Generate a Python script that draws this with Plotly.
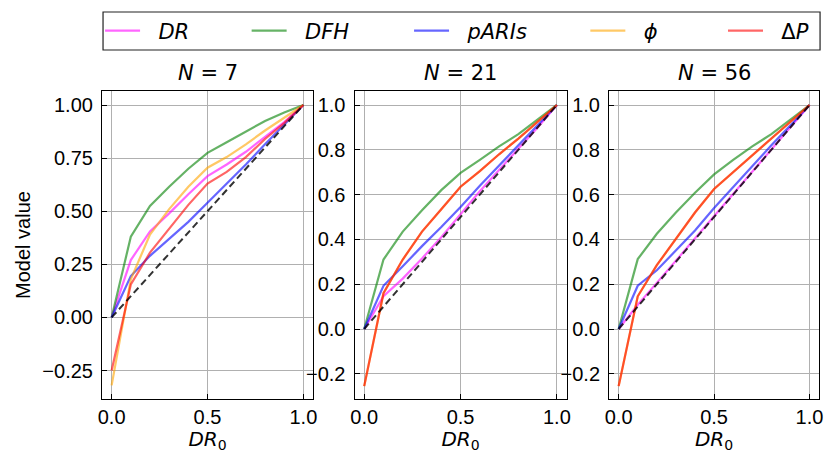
import plotly.graph_objects as go

# ---------------- data ----------------
x_vals = [0.0, 0.1, 0.2, 0.3, 0.4, 0.5, 0.6, 0.7, 0.8, 0.9, 1.0]

dr_7 = [0, 0.27, 0.405, 0.49, 0.58, 0.665, 0.72, 0.78, 0.85, 0.92, 1]
dfh_7 = [0, 0.38, 0.525, 0.615, 0.70, 0.775, 0.825, 0.875, 0.925, 0.965, 1]
paris_7 = [0, 0.195, 0.29, 0.37, 0.45, 0.54, 0.63, 0.72, 0.815, 0.91, 1]
phi_7 = [-0.32, 0.18, 0.39, 0.51, 0.615, 0.705, 0.755, 0.815, 0.88, 0.94, 1]
dp_7 = [-0.25, 0.155, 0.305, 0.42, 0.53, 0.63, 0.685, 0.755, 0.84, 0.915, 1]

dr_21 = [0, 0.146, 0.225, 0.315, 0.41, 0.515, 0.615, 0.71, 0.805, 0.9, 1]
dfh_21 = [0, 0.31, 0.435, 0.53, 0.62, 0.697, 0.755, 0.815, 0.87, 0.935, 1]
paris_21 = [0, 0.193, 0.28, 0.37, 0.455, 0.545, 0.64, 0.73, 0.82, 0.91, 1]
phi_21 = [-0.255, 0.16, 0.31, 0.435, 0.535, 0.635, 0.705, 0.78, 0.85, 0.925, 1]
dp_21 = [-0.255, 0.16, 0.31, 0.435, 0.535, 0.635, 0.705, 0.78, 0.85, 0.925, 1]

dr_56 = [0, 0.108, 0.206, 0.305, 0.405, 0.505, 0.604, 0.703, 0.802, 0.901, 1]
dfh_56 = [0, 0.312, 0.425, 0.52, 0.608, 0.69, 0.755, 0.815, 0.87, 0.935, 1]
paris_56 = [0, 0.193, 0.262, 0.35, 0.44, 0.54, 0.635, 0.73, 0.82, 0.91, 1]
phi_56 = [-0.255, 0.146, 0.285, 0.405, 0.52, 0.625, 0.70, 0.775, 0.85, 0.925, 1]
dp_56 = [-0.255, 0.146, 0.285, 0.405, 0.52, 0.625, 0.70, 0.775, 0.85, 0.925, 1]

diag_x = [0, 1]
diag_y = [0, 1]

panel_titles = ["<i>N</i> = 7", "<i>N</i> = 21", "<i>N</i> = 56"]
series_names = ["<i>DR</i>", "<i>DFH</i>", "<i>pARIs</i>", "<i>ϕ</i>", "Δ<i>P</i>"]
series_colors = ["#ff00ff", "#008000", "#0000ff", "#ffa500", "#ff0000"]

panels = [
    [dr_7, dfh_7, paris_7, phi_7, dp_7],
    [dr_21, dfh_21, paris_21, phi_21, dp_21],
    [dr_56, dfh_56, paris_56, phi_56, dp_56],
]

# ---------------- layout geometry ----------------
W, H = 830, 453
x_domains = [(99, 312), (354, 568), (611, 823)]
y_top, y_bot = 91, 399
y_ranges = [[-0.384, 1.066], [-0.3125, 1.0625], [-0.3125, 1.0625]]
y_ticks = [[-0.25, 0, 0.25, 0.5, 0.75, 1.0], [-0.2, 0, 0.2, 0.4, 0.6, 0.8, 1.0],
           [-0.2, 0, 0.2, 0.4, 0.6, 0.8, 1.0]]
y_fmt = [".2f", ".1f", ".1f"]
legend_left_px = [97, 245, 409, 587, 726]    # left edge of each legend entry
legend_box_px = (100, 12, 824, 50)           # x0, y0(top), x1, y1(bottom)

SANS = "Liberation Sans, Arial, sans-serif"
MATH_FONT = "DejaVu Sans, sans-serif"
TICK_FONT = dict(family=SANS, size=20, color="black")

fig = go.Figure()

legend_keys = ["legend", "legend2", "legend3", "legend4", "legend5"]

for p, series in enumerate(panels):
    xa = "x" if p == 0 else f"x{p+1}"
    ya = "y" if p == 0 else f"y{p+1}"
    for s, vals in enumerate(series):
        fig.add_trace(go.Scatter(
            x=x_vals, y=vals, mode="lines",
            name="&nbsp;&nbsp;" + series_names[s], legendgroup=series_names[s],
            legend=legend_keys[s],
            showlegend=(p == 0),
            line=dict(color=series_colors[s], width=2.2),
            opacity=0.6, xaxis=xa, yaxis=ya,
        ))
    fig.add_trace(go.Scatter(
        x=diag_x, y=diag_y, mode="lines", showlegend=False,
        line=dict(color="black", width=2, dash="7px,4px"),
        opacity=0.8, xaxis=xa, yaxis=ya,
    ))

layout = dict(
    width=W, height=H,
    margin=dict(l=0, r=0, t=0, b=0),
    paper_bgcolor="white", plot_bgcolor="white",
)
for i, key in enumerate(legend_keys):
    layout[key] = dict(
        orientation="h", x=legend_left_px[i] / W, y=1 - 31 / H,
        xanchor="left", yanchor="middle",
        borderwidth=0, bgcolor="rgba(0,0,0,0)",
        font=dict(family=MATH_FONT, size=21, color="black"),
        itemwidth=35,
    )

annotations = []
for p in range(3):
    xkey = "xaxis" if p == 0 else f"xaxis{p+1}"
    ykey = "yaxis" if p == 0 else f"yaxis{p+1}"
    yanchor_name = "y" if p == 0 else f"y{p+1}"
    xanchor_name = "x" if p == 0 else f"x{p+1}"
    x0, x1 = x_domains[p]
    layout[xkey] = dict(
        domain=[x0 / W, x1 / W], anchor=yanchor_name,
        range=[-0.05, 1.05], tickvals=[0, 0.5, 1.0], tickformat=".1f",
        showgrid=True, gridcolor="#b0b0b0", gridwidth=1,
        zeroline=False, showline=True, linecolor="black", linewidth=1.2, mirror=True,
        ticks="inside", ticklen=5, tickwidth=1.2, tickcolor="black",
        tickfont=TICK_FONT,
        title=dict(text="<i>DR</i><sub>0</sub>", font=dict(family=MATH_FONT, size=20, color="black"),
                   standoff=2),
    )
    layout[ykey] = dict(
        domain=[1 - y_bot / H, 1 - y_top / H], anchor=xanchor_name,
        range=y_ranges[p], tickvals=y_ticks[p], tickformat=y_fmt[p],
        showgrid=True, gridcolor="#b0b0b0", gridwidth=1,
        zeroline=False, showline=True, linecolor="black", linewidth=1.2, mirror=True,
        ticks="inside", ticklen=5, tickwidth=1.2, tickcolor="black",
        tickfont=TICK_FONT, ticklabelstandoff=4,
    )
    annotations.append(dict(
        text=panel_titles[p], xref="paper", yref="paper",
        x=(x0 + x1) / 2 / W, y=1 - 73 / H, xanchor="center", yanchor="middle",
        showarrow=False, font=dict(family=MATH_FONT, size=21, color="black"),
    ))

layout["yaxis"]["title"] = dict(text="Model value",
                                font=dict(family=SANS, size=20, color="black"),
                                standoff=6)
layout["annotations"] = annotations
bx0, by0, bx1, by1 = legend_box_px
layout["shapes"] = [dict(
    type="rect", xref="paper", yref="paper",
    x0=bx0 / W, x1=bx1 / W, y0=1 - by1 / H, y1=1 - by0 / H,
    line=dict(color="#222", width=1.2), fillcolor="rgba(0,0,0,0)", layer="above",
)]
fig.update_layout(**layout)

fig.write_html("out.html")
